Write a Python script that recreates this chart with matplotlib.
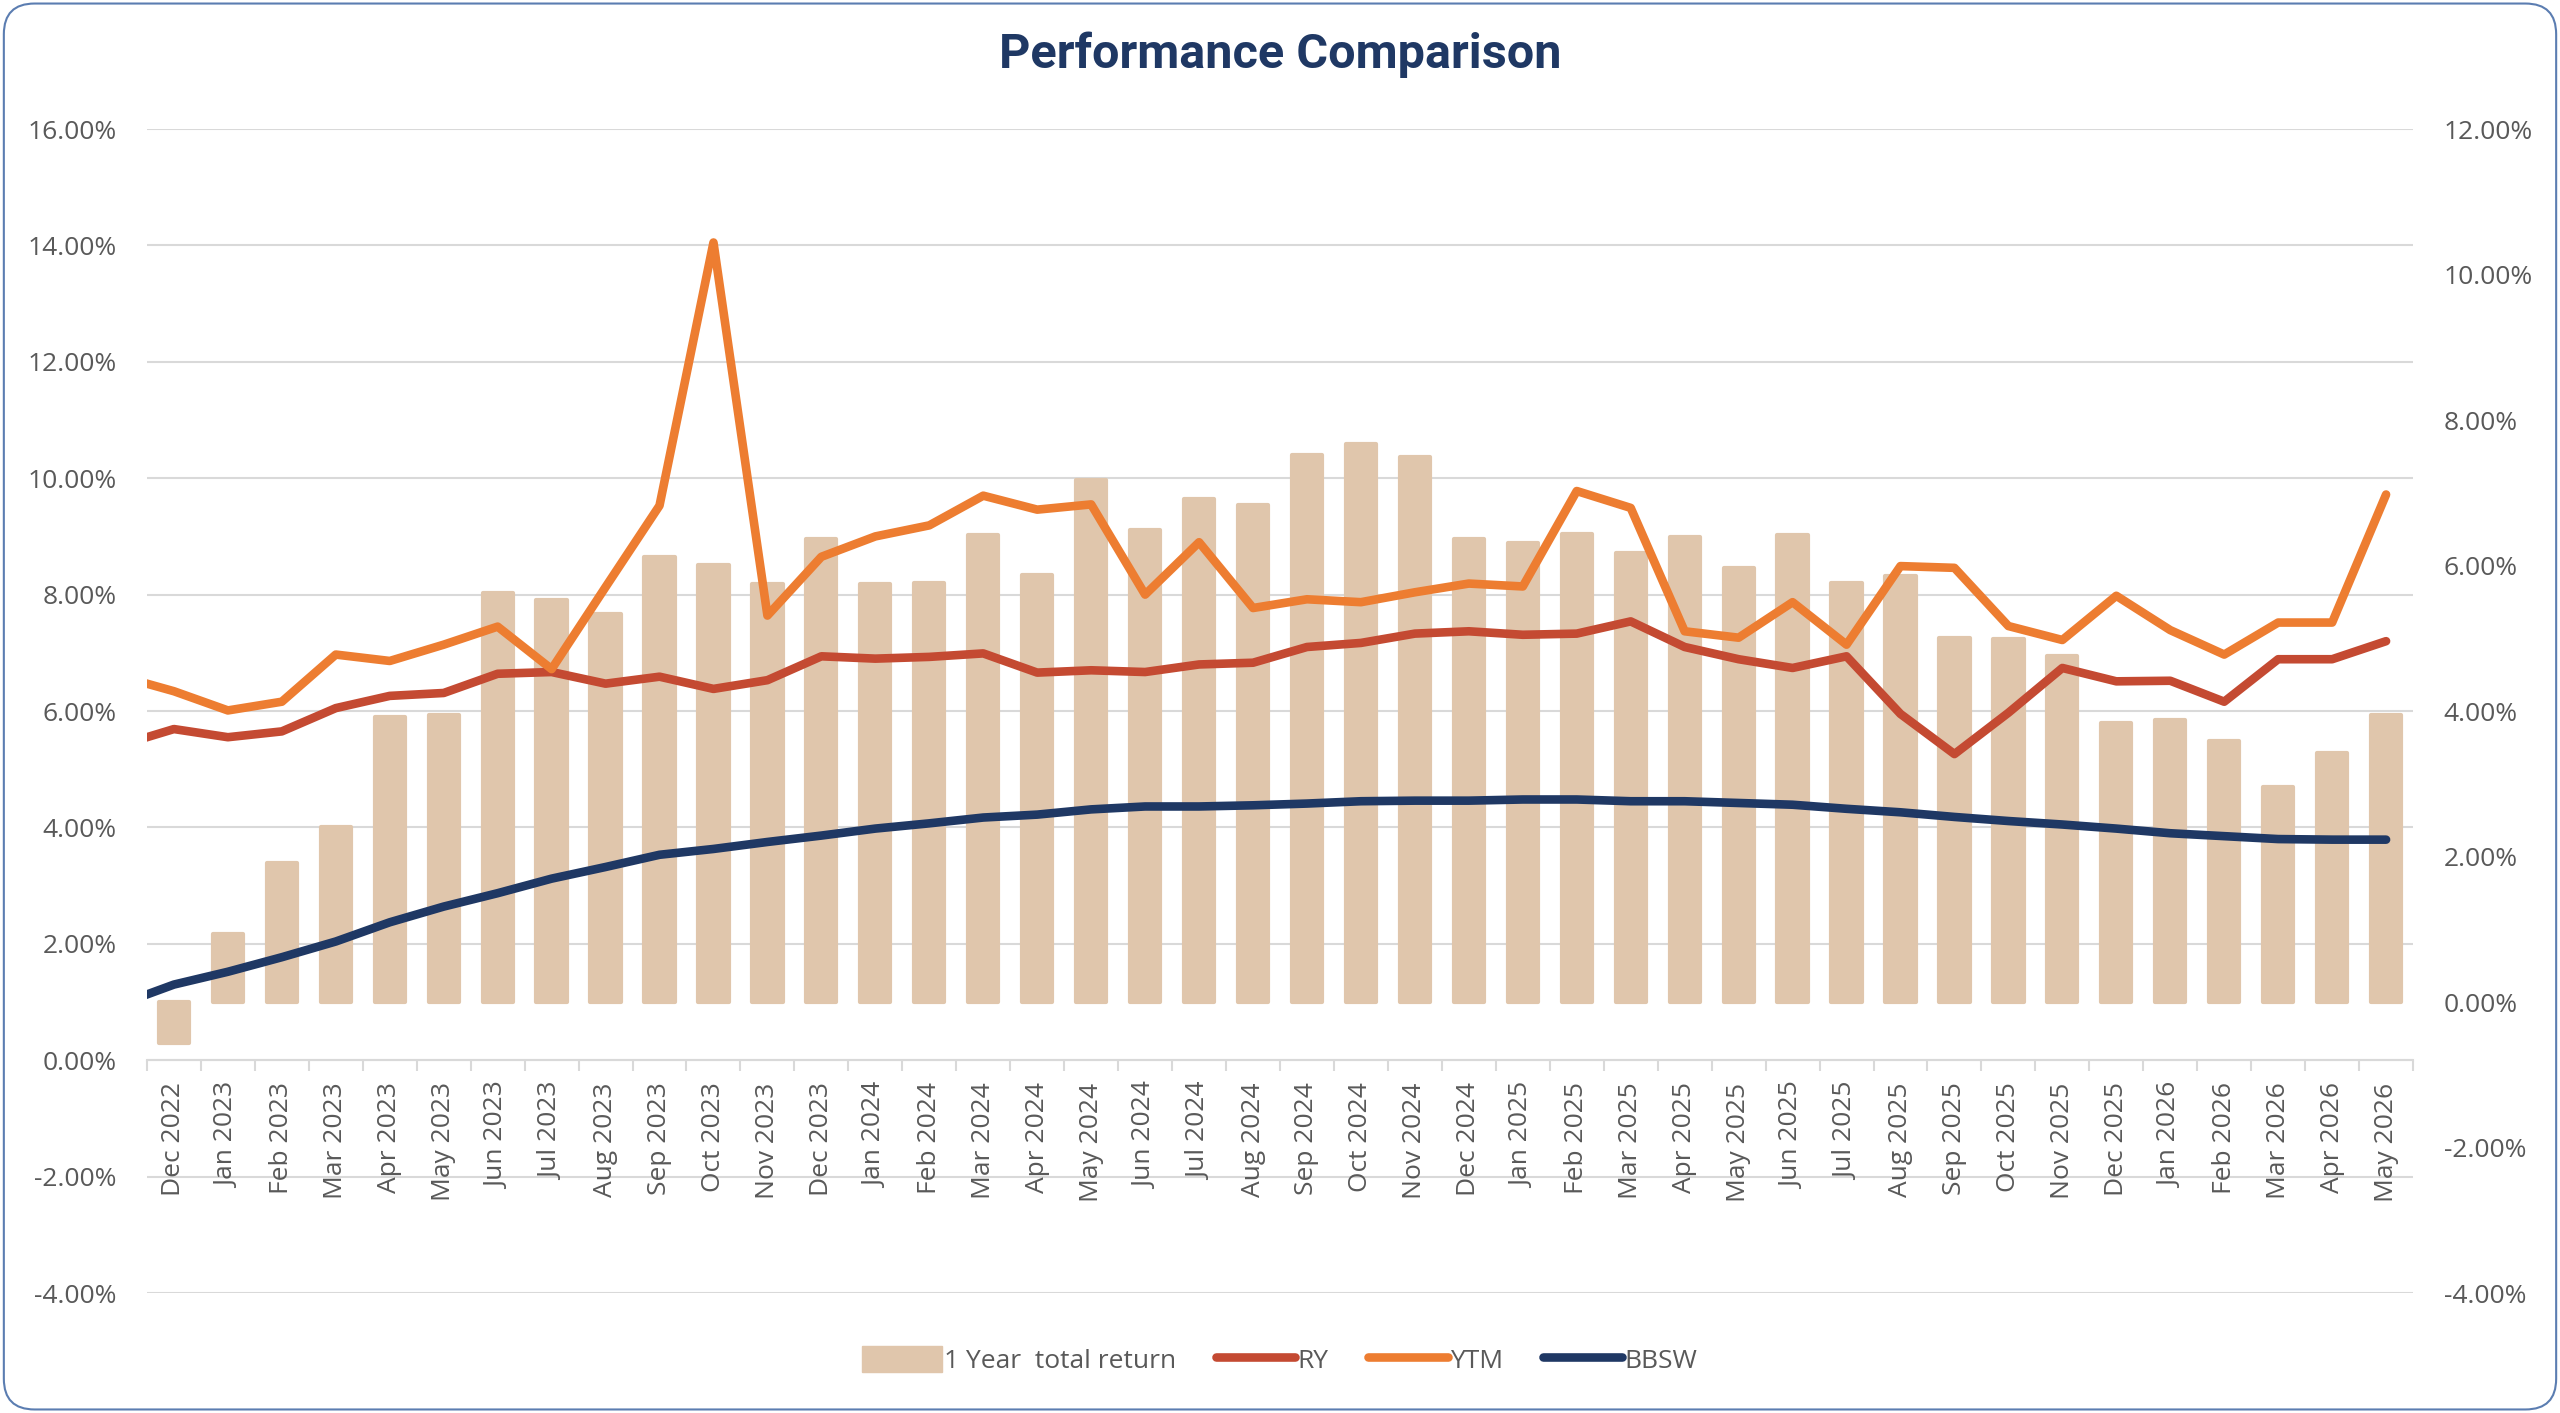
import numpy as np
import matplotlib
matplotlib.use("Agg")
import matplotlib.pyplot as plt
import matplotlib.transforms as mtransforms
from matplotlib.patches import FancyBboxPatch, Patch
from matplotlib.lines import Line2D
from matplotlib.ticker import FuncFormatter, FixedLocator

plt.rcParams["font.family"] = ["Open Sans", "DejaVu Sans"]

months = ["Dec 2022", "Jan 2023", "Feb 2023", "Mar 2023", "Apr 2023", "May 2023",
          "Jun 2023", "Jul 2023", "Aug 2023", "Sep 2023", "Oct 2023", "Nov 2023",
          "Dec 2023", "Jan 2024", "Feb 2024", "Mar 2024", "Apr 2024", "May 2024",
          "Jun 2024", "Jul 2024", "Aug 2024", "Sep 2024", "Oct 2024", "Nov 2024",
          "Dec 2024", "Jan 2025", "Feb 2025", "Mar 2025", "Apr 2025", "May 2025",
          "Jun 2025", "Jul 2025", "Aug 2025", "Sep 2025", "Oct 2025", "Nov 2025",
          "Dec 2025", "Jan 2026", "Feb 2026", "Mar 2026", "Apr 2026", "May 2026"]

# 1 year total return (%), right axis
total_return = [-0.57, 0.93, 1.91, 2.40, 3.92, 3.95, 5.62, 5.52, 5.33, 6.12, 6.01, 5.74,
                6.37, 5.75, 5.76, 6.42, 5.87, 7.17, 6.49, 6.91, 6.83, 7.52, 7.67, 7.49,
                6.36, 6.31, 6.43, 6.17, 6.39, 5.97, 6.42, 5.76, 5.86, 5.00, 4.99, 4.76,
                3.84, 3.87, 3.59, 2.95, 3.42, 3.95]

# line series (%), left axis; first value is the prior month (Nov 2022), cut at the plot edge
ry = [5.41, 5.69, 5.55, 5.65, 6.05, 6.26, 6.31, 6.64, 6.67, 6.47, 6.59, 6.38, 6.53,
      6.94, 6.90, 6.93, 6.99, 6.66, 6.70, 6.67, 6.80, 6.83, 7.10, 7.17, 7.33,
      7.37, 7.31, 7.33, 7.54, 7.10, 6.89, 6.74, 6.94, 5.95, 5.26, 5.97, 6.74,
      6.51, 6.52, 6.16, 6.89, 6.89, 7.20]
ytm = [6.60, 6.34, 6.01, 6.16, 6.97, 6.86, 7.14, 7.45, 6.72, 8.13, 9.53, 14.05, 7.64,
       8.65, 9.00, 9.19, 9.70, 9.46, 9.55, 8.00, 8.90, 7.77, 7.92, 7.87, 8.04,
       8.19, 8.14, 9.78, 9.49, 7.37, 7.26, 7.87, 7.14, 8.49, 8.46, 7.46, 7.22,
       7.98, 7.39, 6.97, 7.52, 7.52, 9.72]
bbsw = [0.96, 1.30, 1.52, 1.77, 2.04, 2.37, 2.64, 2.87, 3.12, 3.32, 3.53, 3.63, 3.75,
        3.86, 3.98, 4.07, 4.17, 4.22, 4.31, 4.36, 4.36, 4.38, 4.41, 4.45, 4.46,
        4.46, 4.48, 4.48, 4.45, 4.45, 4.42, 4.39, 4.32, 4.26, 4.18, 4.11, 4.05,
        3.98, 3.90, 3.85, 3.80, 3.79, 3.79]

left_ticks = np.arange(-4, 17, 2)
right_ticks = np.arange(-4, 13, 2)

C_BAR = "#E0C6AC"
C_RY = "#C44A32"
C_YTM = "#ED7D31"
C_BBSW = "#1F3864"
C_GRID = "#D9D9D9"
C_TXT = "#595959"
FS = 19

fig = plt.figure(figsize=(25.6, 14.13), dpi=100)
ax = fig.add_axes([0.0574, 0.0849, 0.8852, 0.8238])
axb = ax.twinx()
axb.set_zorder(0)
ax.set_zorder(1)
ax.patch.set_visible(False)

x_bar = np.arange(len(months))
x_line = np.arange(-1, len(months))

ax.set_xlim(-0.5, len(months) - 0.5)
ax.set_ylim(-4, 16)
axb.set_ylim(-4, 12)

# gridlines in left-axis units, drawn on the bar axes so they stay behind the bars
tr = mtransforms.blended_transform_factory(axb.transAxes, ax.transData)
axb.hlines(left_ticks, 0, 1, transform=tr, color=C_GRID, lw=1.5, zorder=0.5)

axb.bar(x_bar, total_return, width=0.56, color=C_BAR, edgecolor=C_BAR,
        linewidth=3, joinstyle="round", zorder=2)

for vals, col in [(ry, C_RY), (ytm, C_YTM), (bbsw, C_BBSW)]:
    ax.plot(x_line, vals, color=col, lw=6.2, solid_capstyle="round",
            solid_joinstyle="round", zorder=3)

for a in (ax, axb):
    for s in a.spines.values():
        s.set_visible(False)

ax.spines["bottom"].set_visible(True)
ax.spines["bottom"].set_position(("data", 0))
ax.spines["bottom"].set_color(C_GRID)
ax.spines["bottom"].set_linewidth(1.5)

ax.set_xticks(x_bar)
ax.set_xticklabels(months)
ax.xaxis.set_minor_locator(FixedLocator(np.arange(-0.5, len(months), 1)))
ax.tick_params(axis="x", which="major", length=0, pad=16, labelsize=FS, labelcolor=C_TXT)
ax.tick_params(axis="x", which="minor", length=8, width=1.5, color=C_GRID, direction="out")
plt.setp(ax.get_xticklabels(), rotation=90, ha="center", va="top")

pct = FuncFormatter(lambda v, p: f"{v:.2f}%")
ax.set_yticks(left_ticks)
ax.yaxis.set_major_formatter(pct)
ax.tick_params(axis="y", length=0, pad=22, labelsize=FS, labelcolor=C_TXT)
axb.set_yticks(right_ticks)
axb.yaxis.set_major_formatter(pct)
axb.tick_params(axis="y", length=0, pad=22, labelsize=FS, labelcolor=C_TXT)

fig.text(0.5, 1 - 55 / 1413, "Performance Comparison", ha="center", va="center",
         fontsize=35, fontweight="bold", color=C_BBSW, family=["Roboto", "DejaVu Sans"])

handles = [Patch(facecolor=C_BAR, edgecolor=C_BAR),
           Line2D([0], [0], color=C_RY, lw=6.2, solid_capstyle="round"),
           Line2D([0], [0], color=C_YTM, lw=6.2, solid_capstyle="round"),
           Line2D([0], [0], color=C_BBSW, lw=6.2, solid_capstyle="round")]
labels = ["1 Year  total return", "RY", "YTM", "BBSW"]
leg = fig.legend(handles, labels, loc="center", bbox_to_anchor=(0.5, 1 - 1360 / 1413),
                 ncol=4, frameon=False, fontsize=19, handlelength=3.0, handleheight=1.1,
                 handletextpad=0.1, columnspacing=1.5)
for t in leg.get_texts():
    t.set_color(C_TXT)

border = FancyBboxPatch((0.0015, 0.0025), 0.997, 0.995,
                        boxstyle="round,pad=0,rounding_size=0.012",
                        mutation_aspect=2560 / 1413, transform=fig.transFigure,
                        facecolor="none", edgecolor="#5B7DB1", linewidth=1.5)
fig.add_artist(border)

fig.savefig("out.png", dpi=100)
